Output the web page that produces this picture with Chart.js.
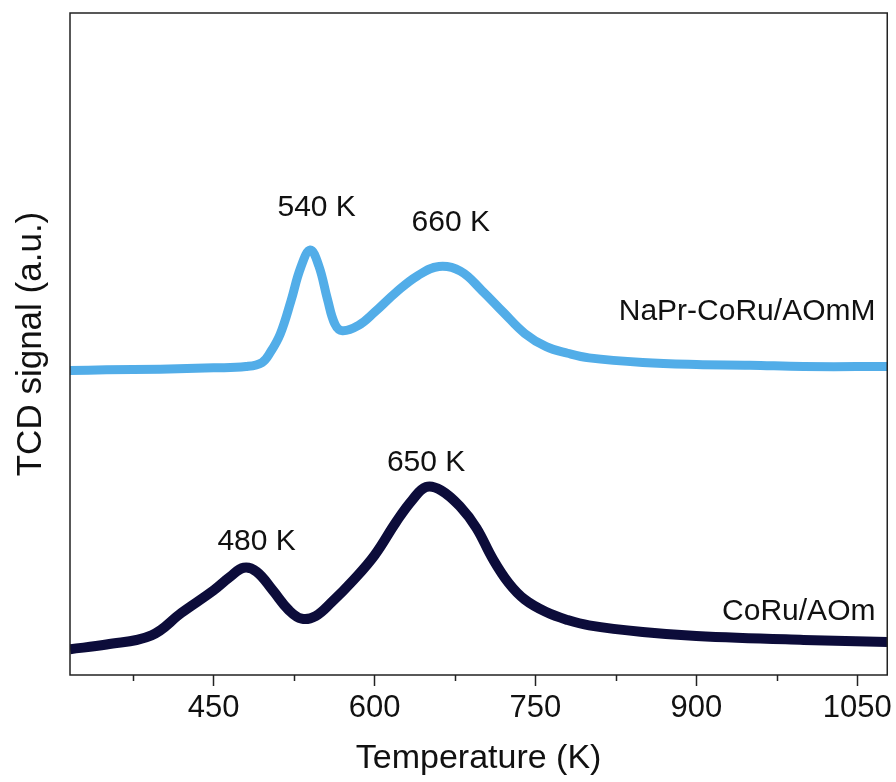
<!DOCTYPE html>
<html>
<head>
<meta charset="utf-8">
<script src="https://cdn.jsdelivr.net/npm/chart.js@4.4.1/dist/chart.umd.min.js"></script>
<style>
  html, body { margin: 0; padding: 0; background: #fff; }
  #wrap { width: 896px; height: 782px; }
</style>
</head>
<body>
<div id="wrap"><canvas id="tprChart" width="896" height="782"></canvas></div>
<script>
// NaPr-CoRu/AOmM (upper, light blue)
const tempNaPr = [316, 350, 400, 450, 480, 495, 503, 512, 522, 531, 540, 548, 556, 563, 570, 585,
    600, 620, 640, 660, 680, 700, 720, 740, 760, 780, 800, 850, 900, 950, 1000, 1078];
const signalNaPr = [46.0, 46.1, 46.2, 46.4, 46.6, 47.2, 48.8, 51.5, 56.5, 61.5, 64.2, 61.8, 56.8, 53.0, 52.0, 52.8,
    54.8, 57.8, 60.3, 61.7, 61.0, 58.1, 54.8, 51.6, 49.6, 48.6, 47.9, 47.2, 46.9, 46.8, 46.6, 46.6];

// CoRu/AOm (lower, dark navy)
const tempCoRu = [316, 350, 392, 420, 450, 465, 478, 490, 505, 520, 532, 545, 560, 580, 600,
    620, 635, 648, 662, 680, 695, 710, 725, 740, 760, 780, 800, 850, 900, 1000, 1078];
const signalCoRu = [3.9, 4.6, 6.0, 9.4, 12.8, 14.8, 16.2, 15.6, 12.8, 9.8, 8.5, 8.9, 11.0, 14.3, 18.1,
    23.1, 26.4, 28.4, 27.9, 25.4, 22.2, 17.6, 13.9, 11.4, 9.5, 8.3, 7.5, 6.5, 5.9, 5.3, 5.0];

const xTicks = [450, 600, 750, 900, 1050];

// text annotations in data units
const peakLabels = [
    { text: "540 K", x: 546, y: 70.6, align: "center" },
    { text: "660 K", x: 671, y: 68.3, align: "center" },
    { text: "480 K", x: 490, y: 20.2, align: "center" },
    { text: "650 K", x: 648, y: 32.1, align: "center" },
    { text: "NaPr-CoRu/AOmM", x: 1067, y: 54.8, align: "right" },
    { text: "CoRu/AOm", x: 1067, y: 9.6, align: "right" },
];

const toPoints = (xs, ys) => xs.map((x, i) => ({ x: x, y: ys[i] }));

const framePlugin = {
    id: "frame",
    afterDraw(chart) {
        const { ctx, chartArea: a, scales } = chart;
        const xs = scales.x;
        ctx.save();
        ctx.strokeStyle = "#222";
        ctx.lineWidth = 1.5;
        ctx.strokeRect(a.left, a.top, a.right - a.left, a.bottom - a.top);
        // minor ticks
        ctx.beginPath();
        xs.ticks.forEach(t => {
            if (!xTicks.includes(t.value)) {
                const px = Math.round(xs.getPixelForValue(t.value)) + 0.5;
                ctx.moveTo(px, a.bottom);
                ctx.lineTo(px, a.bottom + 6);
            }
        });
        ctx.stroke();
        ctx.restore();
    }
};

const labelPlugin = {
    id: "peakLabels",
    afterDatasetsDraw(chart) {
        const { ctx, scales } = chart;
        ctx.save();
        ctx.fillStyle = "#111";
        ctx.font = "30px 'Liberation Sans', Arial, sans-serif";
        ctx.textBaseline = "middle";
        peakLabels.forEach(l => {
            ctx.textAlign = l.align;
            ctx.fillText(l.text, scales.x.getPixelForValue(l.x), scales.y.getPixelForValue(l.y));
        });
        ctx.restore();
    }
};

new Chart(document.getElementById("tprChart"), {
    type: "line",
    data: {
        datasets: [
            {
                label: "NaPr-CoRu/AOmM",
                data: toPoints(tempNaPr, signalNaPr),
                borderColor: "#52ade8",
                borderWidth: 9,
                pointRadius: 0,
                tension: 0.4,
                fill: false,
            },
            {
                label: "CoRu/AOm",
                data: toPoints(tempCoRu, signalCoRu),
                borderColor: "#0c0c3a",
                borderWidth: 10,
                pointRadius: 0,
                tension: 0.4,
                fill: false,
            },
        ],
    },
    options: {
        responsive: false,
        animation: false,
        layout: { padding: { top: 13, right: 8, left: 0, bottom: 0 } },
        scales: {
            x: {
                type: "linear",
                min: 316,
                max: 1078,
                afterFit: s => { s.height = 107; },
                border: { display: false },
                grid: {
                    drawOnChartArea: false,
                    drawTicks: true,
                    tickLength: 11,
                    tickWidth: 1.5,
                    tickColor: c => (xTicks.includes(c.tick && c.tick.value) ? "#222" : "rgba(0,0,0,0)"),
                },
                ticks: {
                    stepSize: 75,
                    includeBounds: false,
                    autoSkip: false,
                    maxRotation: 0,
                    padding: 4,
                    color: "#111",
                    font: { family: "'Liberation Sans', Arial, sans-serif", size: 31 },
                    callback: v => (xTicks.includes(v) ? String(v) : ""),
                },
                title: {
                    display: true,
                    text: "Temperature (K)",
                    color: "#111",
                    padding: { top: 0, bottom: 3 },
                    font: { family: "'Liberation Sans', Arial, sans-serif", size: 34 },
                },
            },
            y: {
                min: 0,
                max: 100,
                afterFit: s => { s.width = 70; },
                border: { display: false },
                grid: { display: false },
                ticks: { display: false },
                title: {
                    display: true,
                    text: "TCD signal (a.u.)",
                    color: "#111",
                    padding: { top: 10, bottom: 0 },
                    font: { family: "'Liberation Sans', Arial, sans-serif", size: 35 },
                },
            },
        },
        plugins: {
            legend: { display: false },
            tooltip: { enabled: false },
        },
    },
    plugins: [framePlugin, labelPlugin],
});
</script>
</body>
</html>
